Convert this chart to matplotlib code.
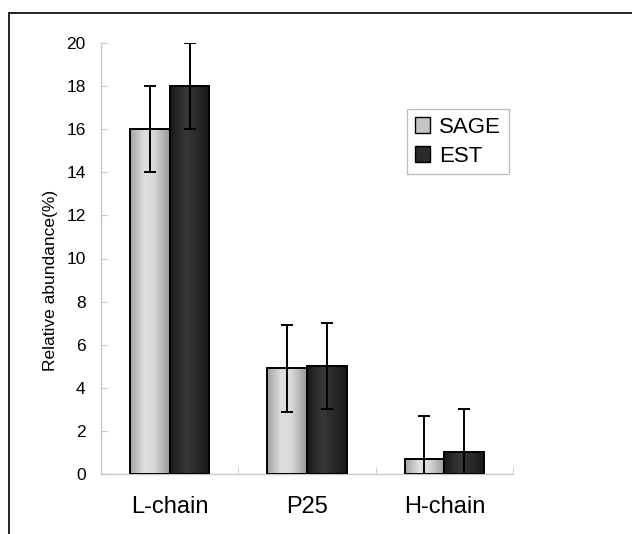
"""
Relative abundance of ferritin chains, SAGE vs EST
"""

import matplotlib.pyplot as plt
import numpy as np
from matplotlib.patches import Patch, Rectangle

categories = ["L-chain", "P25", "H-chain"]
sage = [16, 4.9, 0.7]
est = [18, 5.0, 1.0]
sage_err = [2, 2, 2]
est_err = [2, 2, 2]

plt.rcParams["font.family"] = ["Liberation Sans", "DejaVu Sans"]

fig = plt.figure(figsize=(6.32, 5.34), dpi=100)
ax = fig.add_axes([101 / 632, 1 - 474 / 534, 412 / 632, 431 / 534])

x = np.arange(len(categories))
width = 0.29


def shade(bars, stops, levels):
    # horizontal grey gradient clipped to each bar, edge kept on top
    ramp = np.interp(np.linspace(0, 1, 64), stops, levels)[None, :]
    for bar in bars:
        bx, bw, bh = bar.get_x(), bar.get_width(), bar.get_height()
        im = ax.imshow(
            ramp,
            cmap="gray",
            vmin=0,
            vmax=1,
            extent=[bx, bx + bw, 0, bh],
            aspect="auto",
            interpolation="bilinear",
            zorder=2.5,
        )
        im.set_clip_path(bar)
        bar.set_facecolor("none")


sage_bars = ax.bar(
    x - width / 2, sage, width, edgecolor="black", linewidth=1.4, zorder=3
)
est_bars = ax.bar(
    x + width / 2, est, width, edgecolor="black", linewidth=1.4, zorder=3
)
shade(sage_bars, [0, 0.35, 0.6, 1], [0.64, 0.87, 0.85, 0.60])
shade(est_bars, [0, 0.4, 1], [0.10, 0.22, 0.10])

for pos, vals, errs in [(x - width / 2, sage, sage_err), (x + width / 2, est, est_err)]:
    ax.errorbar(
        pos,
        vals,
        yerr=errs,
        fmt="none",
        ecolor="black",
        elinewidth=1.4,
        capsize=4,
        capthick=1.4,
        zorder=4,
    )

ax.set_xlim(-0.5, 2.5)
ax.set_ylim(0, 20)
ax.set_yticks(np.arange(0, 21, 2))
ax.set_xticks(x)
ax.set_xticklabels(categories)
ax.set_xticks([0.5, 1.5, 2.5], minor=True)

for side in ["top", "right"]:
    ax.spines[side].set_visible(False)
for side in ["left", "bottom"]:
    ax.spines[side].set_color("#c8c8c8")
    ax.spines[side].set_linewidth(1.0)

ax.tick_params(axis="x", which="major", length=0, pad=16, labelsize=17)
ax.tick_params(
    axis="x", which="minor", direction="in", length=5, color="#c8c8c8"
)
ax.tick_params(
    axis="y", direction="in", length=4, color="#c8c8c8", pad=11, labelsize=12.5
)

ax.set_ylabel("Relative abundance(%)", fontsize=12.5)
ax.yaxis.set_label_coords(-0.105, 0.45)

handles = [
    Patch(facecolor="#c4c4c4", edgecolor="black", label="SAGE"),
    Patch(facecolor="#2a2a2a", edgecolor="black", label="EST"),
]
leg = fig.legend(
    handles=handles,
    loc="upper left",
    bbox_to_anchor=(407 / 632, 1 - 109 / 534),
    borderaxespad=0,
    fontsize=16,
    handlelength=0.7,
    handleheight=0.7,
    handletextpad=0.4,
    labelspacing=0.35,
    borderpad=0.35,
    fancybox=False,
    framealpha=1,
)
leg.get_frame().set_edgecolor("#c0c0c0")
leg.get_frame().set_linewidth(1.0)

# outer frame that runs off the right and bottom edges
fig.add_artist(
    Rectangle(
        (9 / 632, -0.1),
        1.2,
        1.1 - 13 / 534,
        transform=fig.transFigure,
        fill=False,
        edgecolor="#222222",
        linewidth=1.4,
    )
)

fig.savefig("out.png", dpi=100)
